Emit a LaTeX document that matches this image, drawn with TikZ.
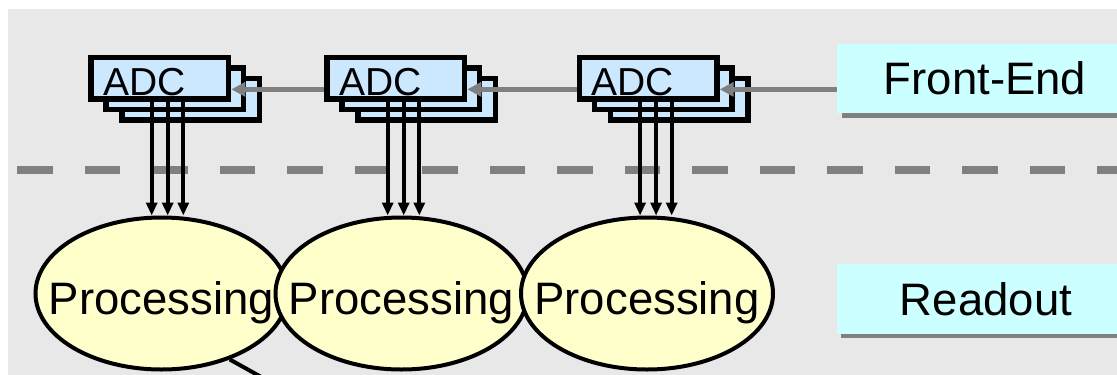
\documentclass[tikz,border=0pt]{standalone}
\usepackage{fontspec}
\setmainfont{Liberation Sans}
\usetikzlibrary{arrows.meta,shapes.geometric,calc}
\definecolor{bggray}{HTML}{E8E8E8}
\definecolor{adcblue}{HTML}{CCE8FF}
\definecolor{labelcyan}{HTML}{CCFFFF}
\definecolor{procyellow}{HTML}{FFFFCC}
\definecolor{linegray}{HTML}{808080}
\begin{document}
\begin{tikzpicture}[x=1pt,y=-1pt,
  adcbox/.style={rectangle, draw=black, line width=5.5pt, fill=adcblue, inner sep=0pt,
                 minimum width=137.5pt, minimum height=41.5pt},
  adctext/.style={font=\fontsize{39}{40}\selectfont, inner sep=0pt, anchor=base west},
  proc/.style={ellipse, draw=black, line width=4pt, fill=procyellow, inner sep=0pt,
               minimum width=252pt, minimum height=152pt},
  bigtext/.style={font=\fontsize{45.5}{50}\selectfont, inner sep=0pt, anchor=base},
  tag/.style={rectangle, fill=labelcyan, inner sep=0pt, anchor=north west, minimum width=310pt},
  feed/.style={draw=linegray, line width=5pt, -{Triangle[length=14pt,width=14pt]}},
  drop/.style={draw=black, line width=4pt, -{Triangle[length=13pt,width=11pt]}},
  divider/.style={draw=linegray, line width=8pt, dash pattern=on 35.5pt off 32pt},
  link/.style={draw=black, line width=4pt}
]
\useasboundingbox (0,0) rectangle (1117,375);
% panel background
\fill[bggray] (8,9) rectangle (1130,390);

% layer separator
\draw[divider] (17.3,170) -- (1130,170);

% layer tags with drop shadows
\fill[linegray] (841.7,49) rectangle (1150,117.5);
\node[tag, minimum height=68.7pt] (fe) at (836.7,44) {};
\node[bigtext] (fet) at (985,94) {Front-End};
\fill[linegray] (841.2,268) rectangle (1150,337.5);
\node[tag, minimum height=70pt] (ro) at (836.6,263.3) {};
\node[bigtext] (rot) at (986,315) {Readout};

% processing units
\node[proc] (p1) at (161.5,293.5) {};
\node[bigtext] (t1) at (161.5,314) {Processing};
\node[proc] (p2) at (401.5,293.5) {};
\node[bigtext] (t2) at (401.5,314) {Processing};
\node[proc] (p3) at (647,293.5) {};
\node[bigtext] (t3) at (647,314) {Processing};

% stacked ADC channels
\foreach \g/\x in {1/88.3,2/324.3,3/576.7}{
  \node[adcbox] (a\g c) at (\x+102.5, 99.35) {};
  \node[adcbox] (a\g b) at (\x+86.5, 88.85) {};
  \node[adcbox] (a\g a) at (\x+71.5, 78.35) {};
  \node[adctext] (a\g t) at (\x+14.7, 95) {ADC};
}

% control chain along the front-end
\coordinate (f3) at ([yshift=-11pt]a3a.east);
\draw[feed] (fe.west |- f3) -- (f3);
\draw[feed] ([yshift=-11pt]a3a.west) -- ([yshift=-11pt]a2a.east);
\draw[feed] ([yshift=-11pt]a2a.west) -- ([yshift=-11pt]a1a.east);

% data paths from each ADC stack to its processing unit
\foreach \g in {1,2,3}{
  \foreach \dx in {-8.1,7.9,23.5}{
    \draw[drop] ([xshift=\dx pt]a\g a.south) -- ([xshift=\dx pt]a\g a.south |- p\g.north);
  }
}

% outgoing link below
\coordinate (l1) at (263,378);
\draw[link] (p1.-44) -- (l1);
\end{tikzpicture}
\end{document}
